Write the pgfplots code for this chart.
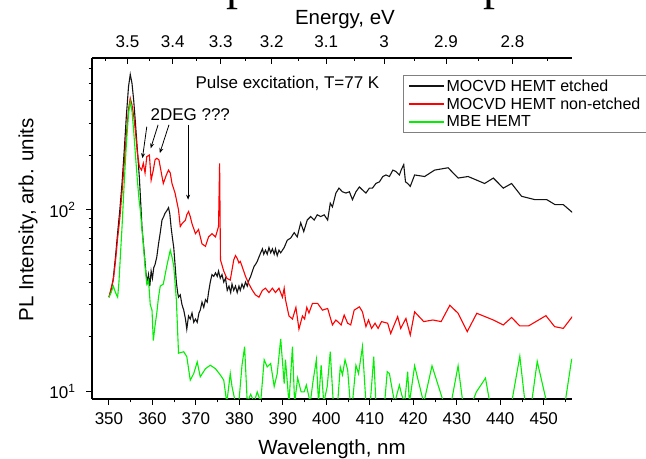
\documentclass[border=0pt]{standalone}
\usepackage{fontspec}
\setmainfont{Liberation Sans}
\newfontfamily\titlefont{Liberation Serif}
\usepackage{pgfplots}
\pgfplotsset{compat=1.18}
\usetikzlibrary{arrows.meta}

\definecolor{curveblack}{RGB}{20,20,20}
\definecolor{curvered}{RGB}{255,0,0}
\definecolor{curvegreen}{RGB}{0,240,0}

\newcommand{\ticksize}{\fontsize{17bp}{19bp}\selectfont}
\newcommand{\labelsize}{\fontsize{20.5bp}{24bp}\selectfont}
\newcommand{\legsize}{\fontsize{16bp}{18bp}\selectfont}
\newcommand{\notesize}{\fontsize{17bp}{19bp}\selectfont}

\begin{document}
\begin{tikzpicture}[x=1bp,y=1bp]
\path[use as bounding box] (0,0) rectangle (646,459);

% descenders of the page title running above the figure
\node[font=\titlefont\fontsize{48bp}{50bp}\selectfont, inner sep=0pt, anchor=base west] at (226,459.5) {p};
\node[font=\titlefont\fontsize{48bp}{50bp}\selectfont, inner sep=0pt, anchor=base west] at (483.5,459.5) {p};

% main axis: wavelength (bottom) and PL intensity (left, log scale)
\begin{axis}[
  at={(92bp,60bp)}, anchor=south west,
  width=480bp, height=341bp, scale only axis,
  xmin=346.1, xmax=456.5,
  ymode=log, ymin=9.05, ymax=690,
  axis x line*=bottom, axis y line*=left,
  axis line style={line width=1.1bp, -},
  tick align=outside,
  major tick length=6bp, minor tick length=3.5bp,
  every tick/.style={line width=1bp, black},
  xtick={350,360,...,450},
  minor xtick={355,365,...,455},
  ytick={10,100},
  yticklabels={10\textsuperscript{1},10\textsuperscript{2}},
  minor ytick={20,30,40,50,60,70,80,90,200,300,400,500,600},
  /pgf/number format/assume math mode=true,
  tick label style={font=\ticksize},
  xticklabel style={yshift=-4bp},
  yticklabel style={xshift=-7bp},
  xlabel={Wavelength, nm},
  ylabel={PL Intensity, arb. units},
  label style={font=\labelsize},
  xlabel style={at={(axis description cs:0.5,-0.164)}, anchor=base},
  ylabel style={at={(axis description cs:-0.133,0.525)}, anchor=center},
  clip=true,
  legend cell align=left,
  legend style={at={(axis description cs:0.647,0.950)}, anchor=north west,
    draw=gray, line width=0.8bp, fill=white, font=\legsize,
    inner xsep=5bp, inner ysep=2bp, row sep=1bp},
  legend image code/.code={\draw[#1] (0bp,0bp) -- (35bp,0bp);},
]

% MOCVD HEMT, etched
\addplot[color=curveblack, line width=1.1bp, forget plot] coordinates {
(350.0,33) (350.5,36) (351.0,42) (351.5,55) (352.0,75) (352.5,100) (353.0,140)
(353.5,210) (354.0,330) (354.5,480) (354.9,560) (355.3,500) (355.7,400)
(356.1,300) (356.5,220) (357.0,150) (357.3,110) (357.6,80) (357.9,66)
(358.2,55) (358.5,45) (358.8,40) (359.1,44) (359.4,38) (359.7,46) (360.0,42)
(360.3,48) (360.6,50) (361.0,55) (361.4,65) (361.8,75) (362.2,88) (362.6,92)
(362.9,96) (363.3,99) (363.7,103) (364.0,95) (364.3,80) (364.6,70)
(364.9,62) (365.2,50) (365.5,40) (365.8,35) (366.0,33) (366.4,34)
(366.8,30) (367.2,28) (367.6,25) (367.9,22) (368.3,26) (368.7,25)
(369.1,27) (369.5,24) (369.9,25) (370.3,24) (370.7,27) (371.0,28)
(371.4,31) (371.8,29) (372.2,32) (372.6,31) (372.9,35) (373.3,40)
(373.7,44) (374.1,43) (374.5,45) (374.9,43) (375.2,46) (375.6,42)
(376.0,44) (376.4,40) (376.8,42) (377.2,36) (377.6,38) (378.0,35)
(378.3,39) (378.7,36) (379.1,38) (379.5,35) (379.9,38) (380.2,36)
(380.6,39) (381.0,37) (381.4,40) (381.8,38) (382.2,41) (382.6,43)
(383.0,46) (383.4,49) (383.7,50) (384.1,52) (384.5,55) (384.9,58)
(385.3,61) (385.6,57) (386.0,60) (386.4,57) (386.8,62) (387.2,58)
(387.6,61) (388.0,57) (388.3,61) (388.7,56) (389.1,60) (389.5,58)
(390.3,62) (391.0,68) (391.8,70) (392.6,75) (393.3,71) (394.1,85)
(394.8,76) (395.6,88) (396.4,92) (397.2,88) (397.9,94) (398.7,92)
(399.5,94) (400.3,88) (400.9,109) (401.4,104) (402.2,124) (402.9,132)
(403.7,126) (404.5,124) (405.3,126) (406.0,114) (406.8,126) (407.6,134)
(408.3,129) (409.1,124) (409.9,132) (410.6,132) (411.4,140) (412.2,143)
(413.0,153) (413.7,156) (414.5,153) (415.3,166) (416.0,163) (416.8,156)
(417.2,166) (417.8,178) (418.2,143) (418.7,140) (419.3,135) (420.3,156)
(422.6,153) (424.9,166) (428.0,171) (430.3,150) (432.6,153) (436.4,140)
(438.4,150) (440.7,132) (442.6,140) (444.9,119) (448.0,114) (450.7,114)
(452.6,107) (454.5,107) (457.0,95)
};

% MOCVD HEMT, non-etched
\addplot[color=curvered, line width=1.1bp, forget plot] coordinates {
(350.0,33) (350.5,37) (351.0,41) (351.5,52) (352.0,70) (352.5,90) (353.0,125)
(353.5,180) (354.0,260) (354.5,360) (354.9,414) (355.3,380) (355.7,330)
(356.1,270) (356.5,210) (357.0,173) (357.5,166) (357.9,181) (358.3,160)
(358.7,197) (359.3,201) (359.7,146) (360.2,166) (360.6,189) (361.0,193)
(361.5,189) (362.2,153) (362.5,140) (363.2,156) (363.7,166) (364.1,160)
(364.5,140) (365.2,124) (366.0,100) (366.4,81) (366.8,84) (367.6,88)
(367.9,94) (368.3,98) (368.7,92) (369.1,84) (369.9,74) (370.6,78)
(371.4,65) (372.2,63) (372.9,71) (373.7,74) (374.5,71) (375.2,81)
(375.45,181) (375.65,53) (376.4,46) (377.1,42) (377.9,41) (378.7,53)
(379.1,56) (379.5,54) (379.9,51) (380.2,52) (380.6,49) (381.4,43)
(382.2,39) (383.0,36) (383.7,34) (384.5,33) (385.3,36) (386.0,37)
(386.8,35) (387.6,37) (388.3,35) (389.1,37) (389.9,33) (390.3,37)
(390.6,32) (391.4,26) (392.2,25) (393.0,29) (393.7,22) (394.5,26)
(395.0,25) (395.5,29) (396.0,27) (396.8,30.5) (398.0,30.5) (399.1,28)
(400.3,28.6) (401.4,23.2) (402.2,24.7) (403.4,23.2) (404.1,26.3)
(404.9,23.7) (405.6,23.2) (406.4,28) (407.6,29.2) (408.3,27.4)
(409.1,22.7) (409.7,24.7) (410.4,22.2) (411.2,23.7) (411.9,22.2)
(412.7,24.2) (414.1,23.7) (414.8,20.8) (415.6,23.2) (416.4,25.8)
(417.1,22.2) (418.3,25.2) (419.3,20.4) (420.3,27.4) (422.4,24.2)
(424.5,24.7) (426.4,24.2) (428.4,29.8) (430.3,26.9) (432.4,21.3)
(434.6,26.9) (438.4,24.7) (440.7,23.2) (442.6,25.5) (444.5,22.9)
(446.5,22.9) (450.5,26.1) (452.5,22.7) (454.5,22.2) (457.0,26.6)
};

% MBE HEMT
\addplot[color=curvegreen, line width=1.1bp, forget plot] coordinates {
(350.0,33) (350.5,35) (351.0,38) (351.5,35) (352.0,33) (352.3,40) (352.7,60)
(353.0,80) (353.5,140) (354.0,230) (354.5,340) (354.9,396) (355.3,350)
(355.7,270) (356.1,200) (356.5,150) (356.9,115) (357.2,100) (357.9,65)
(358.3,49) (358.7,39) (359.1,41) (359.5,30) (359.9,28) (360.2,19)
(360.6,23) (361.0,27) (361.4,33) (361.8,38) (362.5,39) (363.3,49)
(364.1,60) (364.5,55) (364.9,49) (365.5,32) (366.0,16.2) (367.2,16.5)
(367.9,15.5) (368.7,11.5) (369.5,12.5) (370.3,14.5) (371.0,12)
(372.2,13.3) (373.3,13.9) (374.5,13.3) (375.6,12.3) (376.4,11.5)
(377.1,8.6) (377.9,12.5) (378.3,10.6) (379.1,8.6) (379.9,8.8)
(380.6,13.9) (381.2,17.6) (381.8,8.7) (382.6,9.6) (383.4,8.7)
(384.1,9.9) (384.9,8.7) (385.7,14.9) (386.4,13.6) (387.2,14.2)
(388.0,10.6) (388.7,12.5) (389.5,19.4) (390.3,11) (390.6,14.9)
(391.4,8.6) (392.2,17.6) (392.7,8.6) (393.4,11.8) (394.2,9.9)
(394.9,9.9) (395.4,10.8) (396.3,8.6) (396.9,11.2) (397.7,14.9)
(398.2,8.6) (398.8,13.9) (399.4,8.6) (400.2,10.6) (400.9,16.5)
(401.6,8.6) (402.6,8.6) (403.2,13.6) (403.7,12.3) (404.3,14.9)
(404.9,13.1) (405.5,8.6) (406.0,8.6) (406.8,13.9) (407.4,12.5)
(408.3,17.6) (409.1,8.6) (410.1,8.6) (410.9,15.5) (411.4,8.6)
(413.4,8.6) (414.0,12.8) (414.5,12.5) (415.7,8.6) (416.8,10.8)
(417.3,9.6) (418.0,8.6) (418.7,12.8) (419.1,8.6) (420.3,13.8)
(422.4,8.6) (424.3,13.8) (427.0,8.6) (428.7,8.6) (430.3,13.8)
(431.4,8.6) (433.0,8) (434.5,9.9) (436.6,11.8) (437.6,8.6) (440.0,8)
(442.6,8.6) (444.5,15.6) (445.7,8.6) (447.2,8.6) (448.5,14.6)
(450.7,8.6) (452.5,8) (454.9,8.6) (456.4,14.9) (457.0,15.5)
};

% legend samples
\addlegendimage{draw=curveblack, line width=1.2bp}
\addlegendentry{MOCVD HEMT etched}
\addlegendimage{draw=curvered, line width=1.6bp}
\addlegendentry{MOCVD HEMT non-etched\hspace{14bp}}
\addlegendimage{draw=curvegreen, line width=1.4bp}
\addlegendentry{MBE HEMT}

% annotations
\node[font=\notesize, anchor=west] at (axis cs:369.1,497) {Pulse excitation, T=77 K};
\node[font=\notesize] at (axis cs:368.7,335) {2DEG ???};
\draw[-{Stealth[length=5bp,width=4bp]}, line width=0.8bp]
  (axis cs:358.7,288) -- (axis cs:357.7,193);
\draw[-{Stealth[length=5bp,width=4bp]}, line width=0.8bp]
  (axis cs:361.3,295) -- (axis cs:359.6,219);
\draw[-{Stealth[length=5bp,width=4bp]}, line width=0.8bp]
  (axis cs:363.8,295) -- (axis cs:361.7,206);
\draw[-{Stealth[length=5bp,width=4bp]}, line width=0.8bp]
  (axis cs:368.2,295) -- (axis cs:368.2,114);
\end{axis}

% secondary top axis: photon energy, E = 1239.84/lambda
\begin{axis}[
  at={(92bp,60bp)}, anchor=south west,
  width=480bp, height=341bp, scale only axis,
  xmin=346.1, xmax=456.5, ymin=0, ymax=1,
  axis x line*=top, axis y line=none,
  axis line style={line width=1.1bp, -},
  tick align=inside,
  major tick length=6bp, minor tick length=3.5bp,
  every tick/.style={line width=1bp, black},
  xtick={354.24,364.66,375.72,387.45,399.95,413.28,427.53,442.80},
  xticklabels={3.5,3.4,3.3,3.2,3.1,3,2.9,2.8},
  minor xtick={349.25,359.37,370.10,381.49,393.60,406.51,420.29,435.03,450.85},
  tick label style={font=\ticksize},
  xticklabel style={yshift=7bp},
  xlabel={Energy, eV},
  xlabel style={font=\labelsize, at={(axis description cs:0.527,1.112)}, anchor=center},
]
\end{axis}
\end{tikzpicture}
\end{document}
